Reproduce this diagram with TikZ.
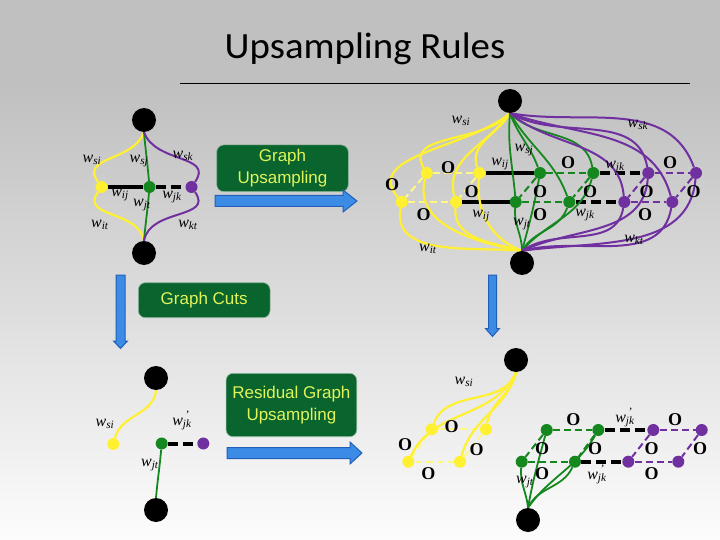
\documentclass[tikz,border=0pt]{standalone}
\usepackage{fontspec}
\setmainfont{Liberation Serif}
\newfontfamily\titlefont{Carlito}
\newfontfamily\arialfont{Liberation Sans}
\pgfdeclarelayer{back}\pgfdeclarelayer{edges}
\pgfsetlayers{back,edges,main}
\definecolor{ycol}{RGB}{255,240,50}
\definecolor{ydash}{RGB}{255,248,130}
\definecolor{gcol}{RGB}{20,135,30}
\definecolor{pcol}{RGB}{112,48,160}
\definecolor{boxg}{RGB}{10,100,45}
\definecolor{boxt}{RGB}{225,245,90}
\definecolor{arrb}{RGB}{60,140,230}
\definecolor{arrd}{RGB}{35,95,185}
\definecolor{bgtop}{RGB}{192,192,192}
\definecolor{bgbot}{RGB}{252,252,252}
\newcommand\wl[1]{\textit{w}\textsubscript{\textit{#1}}}
\newcommand\wq[1]{\textit{w}\textsubscript{\makebox[0pt][l]{\smash{\raisebox{9pt}{\kern3pt'}}}\textit{#1}}}
\tikzset{
  blk/.style={circle,fill=black,minimum size=24,inner sep=0},
  ynode/.style={circle,fill=ycol,minimum size=12,inner sep=0},
  gnode/.style={circle,fill=gcol,minimum size=12,inner sep=0},
  pnode/.style={circle,fill=pcol,minimum size=12,inner sep=0},
  ycurve/.style={draw=ycol,line width=2.2},
  gcurve/.style={draw=gcol,line width=1.8},
  pcurve/.style={draw=pcol,line width=2},
  blkline/.style={draw=black,line width=4},
  blkdash/.style={draw=black,line width=4,dash pattern=on 10 off 5},
  ydsh/.style={draw=ydash,line width=2,dash pattern=on 7 off 4},
  gdsh/.style={draw=gcol,line width=2,dash pattern=on 7 off 4},
  pdsh/.style={draw=pcol,line width=2,dash pattern=on 7 off 4},
  lbl/.style={font=\fontsize{16}{16}\selectfont,inner sep=0},
  ol/.style={font=\bfseries\fontsize{18}{18}\selectfont,inner sep=0},
  gbox/.style={rounded corners=7,fill=boxg,draw=white!55!boxg,line width=0.6,
    text=boxt,font=\arialfont\fontsize{17}{22}\selectfont,align=center,inner sep=0},
  barrow/.style={fill=arrb,draw=arrd,line width=1}
}
\begin{document}
\begin{tikzpicture}[x=1pt,y=-1pt]
\useasboundingbox (0,0) rectangle (720,540);
\begin{pgfonlayer}{back}
\fill[bgtop] (0,0) rectangle (720,86);
\shade[top color=bgtop,bottom color=bgbot] (0,86) rectangle (720,540);
\end{pgfonlayer}
% title
\node[font=\titlefont\fontsize{37}{40}\selectfont,anchor=base,inner sep=0] (title) at (365,59) {\scalebox{1.05}[1]{Upsampling Rules}};
\coordinate (tl1) at (180,83.5);
\coordinate (tl2) at (690,83.5);
\draw[line width=1.5] (tl1) -- (tl2);

% ---------- left small graph ----------
\node[blk] (T1) at (144,120) {};
\node[blk] (B1) at (144,253) {};
\node[ynode] (Y1) at (101.5,187) {};
\node[gnode] (G1) at (149.5,187) {};
\node[pnode] (P1) at (191.5,187) {};
\begin{pgfonlayer}{edges}
\draw[blkline] (Y1) -- (G1);
\draw[blkdash] (G1) -- (P1);
\draw[ycurve] (T1.south) to[out=-110,in=125,looseness=1.2] (Y1);
\draw[ycurve] (Y1) to[out=-125,in=100,looseness=1.2] (B1.north);
\draw[gcurve] (T1.south) to[out=-85,in=95] (G1);
\draw[gcurve] (G1) to[out=-95,in=85] (B1.north);
\draw[pcurve] (T1.south) to[out=-70,in=55,looseness=1.2] (P1);
\draw[pcurve] (P1) to[out=-55,in=80,looseness=1.2] (B1.north);
\end{pgfonlayer}
\node[lbl] (l1) at (92,160) {\wl{si}};
\node[lbl] (l2) at (139,161) {\wl{sj}};
\node[lbl] (l3) at (183,156) {\wl{sk}};
\node[lbl] (l4) at (120,195) {\wl{ij}};
\node[lbl] (l5) at (142,205) {\wl{jt}};
\node[lbl] (l6) at (172,197) {\wl{jk}};
\node[lbl] (l7) at (100,225) {\wl{it}};
\node[lbl] (l8) at (188,225) {\wl{kt}};

% ---------- boxes and arrows ----------
\node[gbox,minimum width=131.6,minimum height=46.7] (box1) at (282.5,168.3) {Graph\\Upsampling};
\node[gbox,minimum width=131.7,minimum height=35] (box2) at (204.2,300.2) {Graph Cuts};
\node[gbox,minimum width=130.7,minimum height=63.4] (box3) at (291.4,405) {Residual Graph\\Upsampling};
\draw[barrow] (215,195.5) -- (343,195.5) -- (343,190) -- (357,201) -- (343,212) -- (343,206.5) -- (215,206.5) -- cycle;
\draw[barrow] (227,447.5) -- (350,447.5) -- (350,442) -- (362,453) -- (350,464) -- (350,458.5) -- (227,458.5) -- cycle;
\draw[barrow] (116,275) -- (125,275) -- (125,341) -- (127.5,341) -- (120.5,348.5) -- (113.5,341) -- (116,341) -- cycle;
\draw[barrow] (488.5,275) -- (496.5,275) -- (496.5,328.5) -- (499.5,328.5) -- (492.5,336.5) -- (485.5,328.5) -- (488.5,328.5) -- cycle;

% ---------- top right graph ----------
\node[blk] (T2) at (510,101) {};
\node[blk] (B2) at (522,263) {};
\node[ynode] (Ya) at (426.7,173) {};
\node[ynode] (Yb) at (479.3,173) {};
\node[ynode] (Yc) at (401.7,202) {};
\node[ynode] (Yd) at (456,202) {};
\node[gnode] (Ga) at (540,173) {};
\node[gnode] (Gb) at (593.3,173) {};
\node[gnode] (Gc) at (515.7,202) {};
\node[gnode] (Gd) at (569.3,202) {};
\node[pnode] (Pa) at (648.3,173) {};
\node[pnode] (Pb) at (696,173) {};
\node[pnode] (Pc) at (624.3,202) {};
\node[pnode] (Pd) at (672.3,202) {};
\begin{pgfonlayer}{edges}
\draw[ydsh] (Ya) -- (Yb); \draw[ydsh] (Yc) -- (Yd);
\draw[ydsh] (Ya) -- (Yc); \draw[ydsh] (Yb) -- (Yd);
\draw[blkline] (Yb) -- (Ga); \draw[blkline] (Yd) -- (Gc);
\draw[gdsh] (Ga) -- (Gb); \draw[gdsh] (Gc) -- (Gd);
\draw[gdsh] (Ga) -- (Gc); \draw[gdsh] (Gb) -- (Gd);
\draw[blkdash] (Gb) -- (Pa); \draw[blkdash] (Gd) -- (Pc);
\draw[pdsh] (Pa) -- (Pb); \draw[pdsh] (Pc) -- (Pd);
\draw[pdsh] (Pa) -- (Pc); \draw[pdsh] (Pb) -- (Pd);
% yellow
\draw[ycurve] (T2.south) to[out=-120,in=110] (Yb);
\draw[ycurve] (T2.south) to[out=-130,in=120] (Ya);
\draw[ycurve] (T2.south) to[out=-125,in=105] (Yd);
\draw[ycurve] (T2.south) to[out=-140,in=130] (Yc);
\draw[ycurve] (Ya) to[out=-105,in=170] (B2.north);
\draw[ycurve] (Yb) to[out=-95,in=160] (B2.north);
\draw[ycurve] (Yc) to[out=-100,in=175] (B2.north);
\draw[ycurve] (Yd) to[out=-95,in=165] (B2.north);
% green
\draw[gcurve] (T2.south) to[out=-95,in=95] (Gc);
\draw[gcurve] (T2.south) to[out=-70,in=110] (Ga);
\draw[gcurve] (T2.south) to[out=-60,in=110] (Gd);
\draw[gcurve] (T2.south) to[out=-45,in=100] (Gb);
\draw[gcurve] (Gc) to[out=-95,in=90] (B2.north);
\draw[gcurve] (Ga) to[out=-100,in=75] (B2.north);
\draw[gcurve] (Gd) to[out=-110,in=60] (B2.north);
\draw[gcurve] (Gb) to[out=-105,in=50] (B2.north);
% purple
\draw[pcurve] (T2.south) to[out=-40,in=95] (Pc);
\draw[pcurve] (T2.south) to[out=-30,in=100] (Pa);
\draw[pcurve] (T2.south) to[out=-20,in=105] (Pd);
\draw[pcurve] (T2.south) to[out=-10,in=110] (Pb);
\draw[pcurve] (Pc) to[out=-100,in=35] (B2.north);
\draw[pcurve] (Pa) to[out=-95,in=25] (B2.north);
\draw[pcurve] (Pd) to[out=-100,in=15] (B2.north);
\draw[pcurve] (Pb) to[out=-95,in=8] (B2.north);
\end{pgfonlayer}
\node[ol] (o1) at (448,168) {O};
\node[ol] (o2) at (392,185) {O};
\node[ol] (o3) at (471.5,191.5) {O};
\node[ol] (o4) at (423.5,215) {O};
\node[ol] (o5) at (568,163) {O};
\node[ol] (o6) at (540,191.5) {O};
\node[ol] (o7) at (590,191.5) {O};
\node[ol] (o8) at (540,215) {O};
\node[ol] (o9) at (670,163) {O};
\node[ol] (o10) at (646.5,191.5) {O};
\node[ol] (o11) at (693.5,191.5) {O};
\node[ol] (o12) at (645,215) {O};
\node[lbl] (m1) at (461,121) {\wl{si}};
\node[lbl] (m2) at (638,125) {\wl{sk}};
\node[lbl] (m3) at (524,150) {\wl{sj}};
\node[lbl] (m4) at (500,164) {\wl{ij}};
\node[lbl] (m5) at (615,167) {\wl{jk}};
\node[lbl] (m6) at (481,216) {\wl{ij}};
\node[lbl] (m7) at (522,224) {\wl{jt}};
\node[lbl] (m8) at (585,215) {\wl{jk}};
\node[lbl] (m9) at (428,249) {\wl{it}};
\node[lbl] (m10) at (634,240) {\wl{kt}};

% ---------- bottom left graph ----------
\node[blk] (T4) at (156,378) {};
\node[blk] (B4) at (156,510) {};
\node[ynode] (Y4) at (113.3,444) {};
\node[gnode] (G4) at (161.7,443.5) {};
\node[pnode] (P4) at (203.3,443.5) {};
\begin{pgfonlayer}{edges}
\draw[ycurve] (T4.south) to[out=-95,in=75] (Y4);
\draw[blkdash] (G4) -- (P4);
\draw[gcurve] (G4) to[out=-95,in=85] (B4.north);
\end{pgfonlayer}
\node[lbl] (n1) at (105,424) {\wl{si}};
\node[lbl] (n2) at (182,424) {\wq{jk}};
\node[lbl] (n3) at (150,465) {\wl{jt}};

% ---------- bottom right graph ----------
\node[blk] (T3) at (516,360) {};
\node[blk] (B3) at (528,520) {};
\node[ynode] (Ya2) at (431.7,429.3) {};
\node[ynode] (Yb2) at (486,429.3) {};
\node[ynode] (Yc2) at (408.3,461.7) {};
\node[ynode] (Yd2) at (460,461.7) {};
\node[gnode] (Ga2) at (546.7,430) {};
\node[gnode] (Gb2) at (598.3,430) {};
\node[gnode] (Gc2) at (521.7,461.7) {};
\node[gnode] (Gd2) at (575,461.7) {};
\node[pnode] (Pa2) at (653.3,430) {};
\node[pnode] (Pb2) at (701.7,430) {};
\node[pnode] (Pc2) at (628.3,461.7) {};
\node[pnode] (Pd2) at (678.3,461.7) {};
\begin{pgfonlayer}{edges}
\draw[ydsh] (Ya2) -- (Yb2); \draw[ydsh] (Yc2) -- (Yd2);
\draw[ydsh] (Ya2) -- (Yc2); \draw[ydsh] (Yb2) -- (Yd2);
\draw[gdsh] (Ga2) -- (Gb2); \draw[gdsh] (Gc2) -- (Gd2);
\draw[gdsh] (Ga2) -- (Gc2); \draw[gdsh] (Gb2) -- (Gd2);
\draw[blkdash] (Gb2) -- (Pa2); \draw[blkdash] (Gd2) -- (Pc2);
\draw[pdsh] (Pa2) -- (Pb2); \draw[pdsh] (Pc2) -- (Pd2);
\draw[pdsh] (Pa2) -- (Pc2); \draw[pdsh] (Pb2) -- (Pd2);
\draw[ycurve] (T3.south) to[out=-100,in=80] (Yb2);
\draw[ycurve] (T3.south) to[out=-105,in=75] (Yd2);
\draw[ycurve] (T3.south) to[out=-110,in=70] (Ya2);
\draw[ycurve] (T3.south) to[out=-115,in=65] (Yc2);
\draw[gcurve] (Gc2) to[out=-95,in=95] (B3.north);
\draw[gcurve] (Ga2) to[out=-105,in=80] (B3.north);
\draw[gcurve] (Gd2) to[out=-115,in=65] (B3.north);
\draw[gcurve] (Gb2) to[out=-120,in=55] (B3.north);
\end{pgfonlayer}
\node[ol] (p1) at (451.7,426.7) {O};
\node[ol] (p2) at (405,445) {O};
\node[ol] (p3) at (476.7,450) {O};
\node[ol] (p4) at (428.3,473.3) {O};
\node[ol] (p5) at (573.3,420) {O};
\node[ol] (p6) at (542,448.5) {O};
\node[ol] (p7) at (595,448.5) {O};
\node[ol] (p8) at (542,473.5) {O};
\node[ol] (p9) at (675,420) {O};
\node[ol] (p10) at (651.7,448.5) {O};
\node[ol] (p11) at (700,448.5) {O};
\node[ol] (p12) at (651.7,473.5) {O};
\node[lbl] (q1) at (464,382) {\wl{si}};
\node[lbl] (q2) at (625,421) {\wq{jk}};
\node[lbl] (q3) at (597,478) {\wq{jk}};
\node[lbl] (q4) at (525,482) {\wl{jt}};
\end{tikzpicture}
\end{document}
